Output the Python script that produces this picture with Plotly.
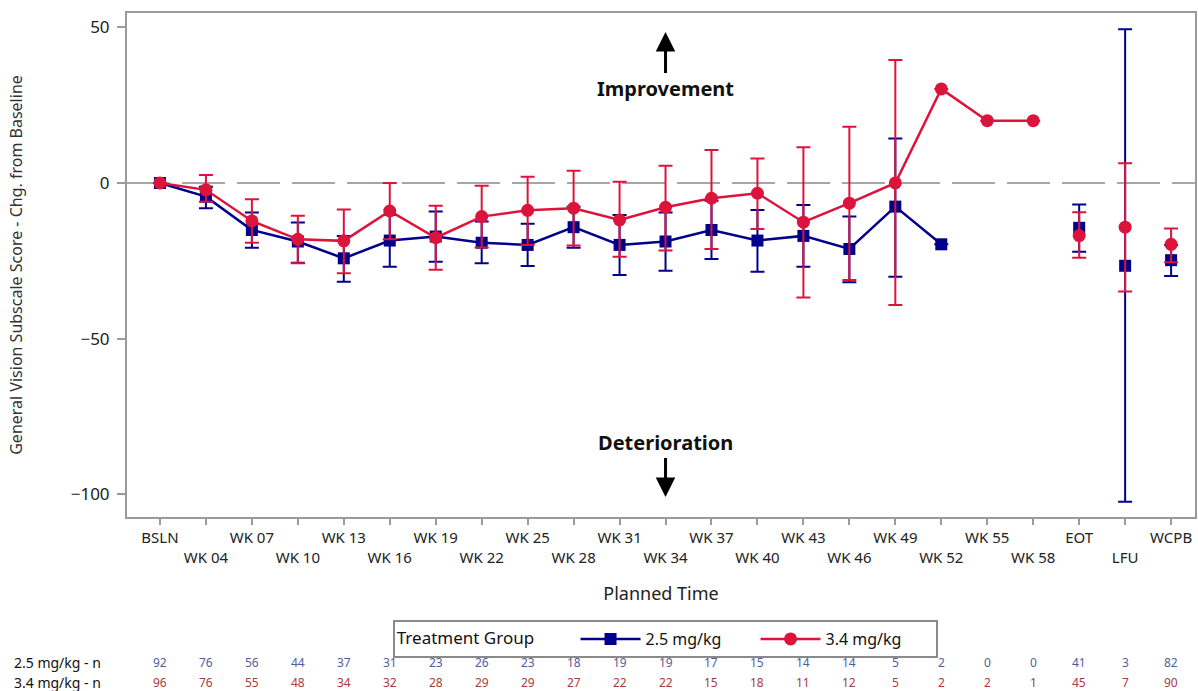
import plotly.graph_objects as go

# Planned visits on the x axis
visits = ["BSLN", "WK 04", "WK 07", "WK 10", "WK 13", "WK 16", "WK 19", "WK 22",
          "WK 25", "WK 28", "WK 31", "WK 34", "WK 37", "WK 40", "WK 43", "WK 46",
          "WK 49", "WK 52", "WK 55", "WK 58", "EOT", "LFU", "WCPB"]
# Summary visits are plotted as unconnected points
summary_visits = ["EOT", "LFU", "WCPB"]

# 2.5 mg/kg: mean change from baseline and confidence limits
mean_25 = [0.0, -4.4, -15.1, -18.8, -24.2, -18.5, -17.2, -19.2, -19.9, -14.2, -19.9, -18.8,
           -15.1, -18.5, -17.0, -21.2, -7.6, -19.7, None, None, -14.4, -26.6, -24.8]
lower_25 = [None, -8.1, -20.8, -25.6, -31.7, -26.9, -25.3, -25.8, -26.7, -20.8, -29.6, -28.2,
            -24.4, -28.5, -26.9, -31.9, -30.1, None, None, None, -22.1, -102.4, -29.9]
upper_25 = [None, -1.2, -9.5, -12.7, -17.0, -10.3, -9.2, -12.4, -13.1, -7.6, -10.3, -9.5,
            -5.7, -8.7, -7.1, -10.8, 14.3, None, None, None, -6.9, 49.4, -19.9]

# 3.4 mg/kg: mean change from baseline and confidence limits
mean_34 = [0.0, -2.2, -12.2, -18.1, -18.6, -9.0, -17.6, -10.8, -8.8, -8.1, -11.9, -7.8,
           -4.9, -3.3, -12.6, -6.5, 0.0, 30.2, 20.0, 20.0, -16.9, -14.2, -19.7]
lower_34 = [None, -6.0, -19.2, -25.8, -29.0, -18.1, -27.9, -20.7, -19.9, -20.1, -23.7, -21.7,
            -21.2, -14.8, -36.8, -31.2, -39.2, None, None, None, -24.0, -34.9, -25.5]
upper_34 = [None, 2.6, -5.2, -10.5, -8.5, 0.0, -7.3, -0.9, 2.0, 3.9, 0.4, 5.5,
            10.6, 7.9, 11.5, 18.1, 39.5, None, None, None, -9.4, 6.3, -14.6]

# Number of subjects per visit
n_25 = [92, 76, 56, 44, 37, 31, 23, 26, 23, 18, 19, 19, 17, 15, 14, 14, 5, 2, 0, 0, 41, 3, 82]
n_34 = [96, 76, 55, 48, 34, 32, 28, 29, 29, 27, 22, 22, 15, 18, 11, 12, 5, 2, 2, 1, 45, 7, 90]

groups = [
    ("2.5 mg/kg", mean_25, lower_25, upper_25, n_25, "#00008b", "square", 12, "#4f5ea3"),
    ("3.4 mg/kg", mean_34, lower_34, upper_34, n_34, "#dc143c", "circle", 13, "#a63c3c"),
]

FONT = "Noto Sans"
pos = list(range(len(visits)))

fig = go.Figure()

for name, mean, lo, hi, n, color, symbol, msize, _ in groups:
    plus = [None if h is None else h - m for m, h in zip(mean, hi)]
    minus = [None if l is None else m - l for m, l in zip(mean, lo)]
    is_visit = lambda i: visits[i] not in summary_visits
    is_summary = lambda i: visits[i] in summary_visits
    for sel, mode, show in ((is_visit, "lines+markers", True), (is_summary, "markers", False)):
        idx = [i for i in pos if sel(i)]
        fig.add_trace(go.Scatter(
            x=idx,
            y=[mean[i] for i in idx],
            mode=mode,
            name=name + "       ",
            legendgroup=name,
            showlegend=show,
            connectgaps=False,
            line=dict(color=color, width=2.5),
            marker=dict(color=color, symbol=symbol, size=msize),
            error_y=dict(type="data", symmetric=False,
                         array=[plus[i] for i in idx],
                         arrayminus=[minus[i] for i in idx],
                         color=color, thickness=2, width=7),
        ))

# reference line at no change
fig.add_shape(type="line", xref="paper", x0=0, x1=1, yref="y", y0=0, y1=0,
              line=dict(color="#a6a6a6", width=2, dash="43px,12px"), layer="below")

# direction labels; each arrow runs from its label to the head
fig.add_annotation(x=11, y=48.5, ax=11, ay=30.5, axref="x", ayref="y",
                   text="<b>Improvement</b>", showarrow=True, arrowhead=2, arrowsize=1.3,
                   arrowwidth=3, arrowcolor="#000", standoff=0, startstandoff=0,
                   font=dict(family=FONT, size=20, color="#111"))
fig.add_annotation(x=11, y=-100.9, ax=11, ay=-83.5, axref="x", ayref="y",
                   text="<b>Deterioration</b>", showarrow=True, arrowhead=2, arrowsize=1.3,
                   arrowwidth=3, arrowcolor="#000", standoff=0, startstandoff=0,
                   font=dict(family=FONT, size=20, color="#111"))

# subject counts below the chart
for row, (name, _, _, _, n, _, _, _, tcolor) in enumerate(groups):
    ypos = -0.2877 - 0.0397 * row
    fig.add_annotation(x=-0.1075, xref="paper", y=ypos, yref="paper", xanchor="left",
                       yanchor="middle", text=f"{name} - n", showarrow=False,
                       font=dict(family=FONT, size=14, color="#111"))
    for i, v in enumerate(n):
        fig.add_annotation(x=i, xref="x", y=ypos, yref="paper", yanchor="middle",
                           text=str(v), showarrow=False,
                           font=dict(family=FONT, size=12, color=tcolor))

ticktext = [v if i % 2 == 0 else "<br>" + v for i, v in enumerate(visits)]

fig.update_layout(
    width=1198, height=691,
    margin=dict(l=127, r=1, t=13, b=174),
    plot_bgcolor="white", paper_bgcolor="white",
    font=dict(family=FONT, color="#222"),
    xaxis=dict(
        range=[-0.717, 22.52], tickmode="array", tickvals=pos, ticktext=ticktext,
        tickangle=0,
        ticks="outside", ticklen=6, tickcolor="#9a9a9a", tickwidth=1.5,
        showline=True, mirror=True, linecolor="#9a9a9a", linewidth=2,
        showgrid=False, zeroline=False, tickfont=dict(family=FONT, size=15, color="#222"),
        title=dict(text="Planned Time", font=dict(family=FONT, size=18, color="#222"), standoff=22),
    ),
    yaxis=dict(
        range=[-107.3, 54.6], tickvals=[50, 0, -50, -100],
        ticks="outside", ticklen=8, tickcolor="#9a9a9a", tickwidth=1.5,
        showline=True, mirror=True, linecolor="#9a9a9a", linewidth=2,
        showgrid=False, zeroline=False, tickfont=dict(family=FONT, size=17, color="#222"),
        ticklabelstandoff=4,
        title=dict(text="General Vision Subscale Score - Chg. from Baseline",
                   font=dict(family=FONT, size=16, color="#333"), standoff=44),
    ),
    legend=dict(
        orientation="h", x=0.504, xanchor="center", y=-0.2421, yanchor="middle",
        title=dict(text="Treatment Group        ", side="left",
                   font=dict(family=FONT, size=17, color="#111")),
        font=dict(family=FONT, size=16, color="#111"),
        bordercolor="#8a8a8a", borderwidth=2, bgcolor="white",
        itemwidth=60, valign="middle", tracegroupgap=0,
    ),
)

fig.write_html("out.html")
